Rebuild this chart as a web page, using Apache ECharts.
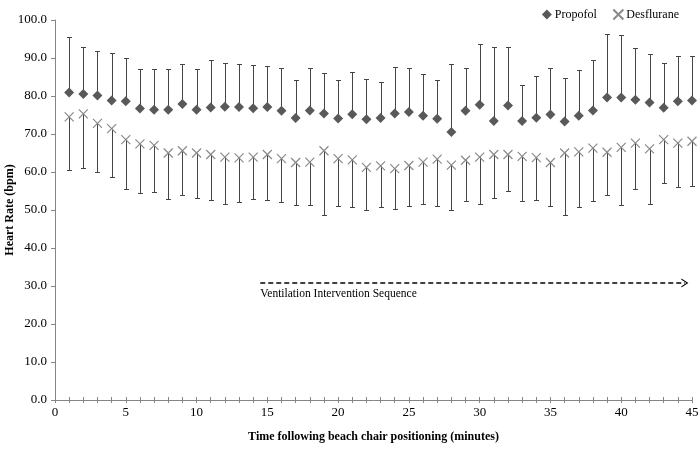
<!DOCTYPE html>
<html>
<head>
<meta charset="utf-8">
<script src="https://cdn.jsdelivr.net/npm/echarts@6/dist/echarts.min.js"></script>
<style>
html,body{margin:0;padding:0;background:#fff;}
#chart{width:698px;height:450px;}
</style>
</head>
<body>
<div id="chart"></div>
<script>
var minutes = [1,2,3,4,5,6,7,8,9,10,11,12,13,14,15,16,17,18,19,20,21,22,23,24,25,26,27,28,29,30,31,32,33,34,35,36,37,38,39,40,41,42,43,44,45];
var propofolMean = [80.9,80.5,80.1,78.8,78.6,76.7,76.4,76.4,77.9,76.4,77.0,77.2,77.1,76.8,77.1,76.1,74.2,76.2,75.4,74.1,75.2,73.9,74.2,75.4,75.8,74.8,74.0,70.5,76.1,77.7,73.4,77.5,73.4,74.3,75.1,73.3,74.8,76.2,79.6,79.6,79.0,78.3,76.9,78.6,78.8];
var propofolUpper = [95.6,93.0,91.8,91.4,90.0,87.0,87.2,87.2,88.4,87.0,89.5,88.6,88.3,88.2,87.8,87.4,84.2,87.5,86.1,84.2,86.2,84.6,83.7,87.6,87.3,85.7,84.1,88.4,87.5,93.7,92.9,92.9,82.8,85.2,87.3,84.7,86.8,89.4,96.3,96.1,92.6,91.1,88.7,90.5,90.5];
var desfluraneMean = [74.5,75.3,72.8,71.4,68.5,67.4,67.0,65.0,65.6,65.0,64.6,63.9,63.7,63.9,64.6,63.5,62.5,62.6,65.6,63.5,63.2,61.2,61.6,60.9,61.7,62.6,63.4,61.8,63.1,63.9,64.6,64.6,64.1,63.8,62.5,65.0,65.3,66.3,65.2,66.5,67.6,66.1,68.5,67.6,68.1];
var desfluraneLower = [60.4,61.1,60.1,58.7,55.5,54.6,54.8,52.9,53.9,53.2,52.6,51.7,52.2,52.9,52.6,52.0,51.4,51.2,48.6,51.1,50.9,50.1,50.7,50.3,51.1,51.6,51.1,49.9,52.5,51.6,53.2,55.1,52.4,52.6,51.1,48.7,50.7,52.5,54.0,51.4,55.4,51.7,57.1,56.1,56.2];
var arrowStart = 14.5, arrowEnd = 44.5, arrowLevel = 30.8;
var annotationText = 'Ventilation Intervention Sequence';
var xTitle = 'Time following beach chair positioning (minutes)';
var yTitle = 'Heart Rate (bpm)';

var FONT = '"Liberation Serif", "Times New Roman", serif';

function pairs(a, b) { return minutes.map(function (m, i) { return [m, a[i], b[i]]; }); }
function pts(a) { return minutes.map(function (m, i) { return [m, a[i]]; }); }

function errRender(params, api) {
  var p0 = api.coord([api.value(0), api.value(1)]);
  var p1 = api.coord([api.value(0), api.value(2)]);
  var st = { stroke: '#454545', lineWidth: 1 };
  var x = Math.round(p0[0]) + 0.5;
  var ye = Math.round(p1[1]) + 0.5;
  return {
    type: 'group',
    children: [
      { type: 'line', shape: { x1: x, y1: p0[1], x2: x, y2: ye }, style: st },
      { type: 'line', shape: { x1: x - 2.5, y1: ye, x2: x + 2.5, y2: ye }, style: st }
    ]
  };
}

var chart = echarts.init(document.getElementById('chart'), null, { renderer: 'canvas' });
var option = {
  animation: false,
  backgroundColor: '#ffffff',
  textStyle: { fontFamily: FONT },
  grid: { left: 55, right: 6, top: 20, bottom: 50, containLabel: false, outerBoundsMode: 'none' },
  legend: {
    top: 2, right: 14, itemGap: 14, itemWidth: 10, itemHeight: 10,
    textStyle: { fontFamily: FONT, fontSize: 12, color: '#000', padding: [0, 0, 0, -2] },
    data: [
      { name: 'Propofol', icon: 'diamond' },
      { name: 'Desflurane', icon: 'path://M0,0L10,10M10,0L0,10' }
    ]
  },
  xAxis: [{
    type: 'value', min: 0, max: 45, interval: 5,
    name: xTitle, nameLocation: 'middle', nameGap: 31, nameMoveOverlap: false,
    nameTextStyle: { fontFamily: FONT, fontSize: 12, fontWeight: 'bold', color: '#000' },
    axisLine: { show: true, lineStyle: { color: '#868686', width: 1 } },
    axisTick: { show: true, inside: false, length: 3, lineStyle: { color: '#868686' } },
    minorTick: { show: true, splitNumber: 5, length: 3, lineStyle: { color: '#868686' } },
    axisLabel: { fontFamily: FONT, fontSize: 13, color: '#000', margin: 6 },
    splitLine: { show: false }
  }, {
    type: 'value', min: 0, max: 45, interval: 5, position: 'bottom',
    axisLine: { show: false },
    axisTick: { show: true, inside: true, length: 3, lineStyle: { color: '#868686' } },
    minorTick: { show: true, splitNumber: 5, length: 3, lineStyle: { color: '#868686' } },
    axisLabel: { show: false },
    splitLine: { show: false }
  }],
  yAxis: {
    type: 'value', min: 0, max: 100, interval: 10,
    name: yTitle, nameLocation: 'middle', nameGap: 39, nameMoveOverlap: false,
    nameTextStyle: { fontFamily: FONT, fontSize: 12, fontWeight: 'bold', color: '#000' },
    axisLine: { show: true, lineStyle: { color: '#868686', width: 1 } },
    axisTick: { show: true, inside: false, length: 4, lineStyle: { color: '#868686' } },
    axisLabel: { fontFamily: FONT, fontSize: 13, color: '#000', margin: 8,
      formatter: function (v) { return v.toFixed(1); } },
    splitLine: { show: false }
  },
  series: [
    {
      name: 'propofolErr', type: 'custom', renderItem: errRender,
      data: pairs(propofolMean, propofolUpper), z: 2, silent: true,
      encode: { x: 0, y: [1, 2] }
    },
    {
      name: 'desfluraneErr', type: 'custom', renderItem: errRender,
      data: pairs(desfluraneMean, desfluraneLower), z: 2, silent: true,
      encode: { x: 0, y: [1, 2] }
    },
    {
      name: 'Propofol', type: 'scatter', symbol: 'diamond', symbolSize: 10,
      data: pts(propofolMean), z: 4,
      itemStyle: { color: '#595959', opacity: 1 }
    },
    {
      name: 'Desflurane', type: 'scatter', symbol: 'path://M0,0L10,10M10,0L0,10', symbolSize: 9,
      data: pts(desfluraneMean), z: 4,
      itemStyle: { color: 'none', borderColor: '#8a8a8a', borderWidth: 1.2, opacity: 1 },
      markLine: {
        silent: true,
        symbol: ['none', 'path://M0,10L5,0L10,10L8.6,10L5,2.8L1.4,10Z'],
        symbolSize: [9, 7],
        lineStyle: { color: '#000', type: [5, 3], width: 1.5 },
        label: {
          show: true, position: 'insideStartBottom', formatter: annotationText,
          fontFamily: FONT, fontSize: 11.5, color: '#000', distance: [0, 5]
        },
        data: [[{ coord: [arrowStart, arrowLevel] }, { coord: [arrowEnd, arrowLevel] }]]
      }
    }
  ]
};
chart.setOption(option);
</script>
</body>
</html>
